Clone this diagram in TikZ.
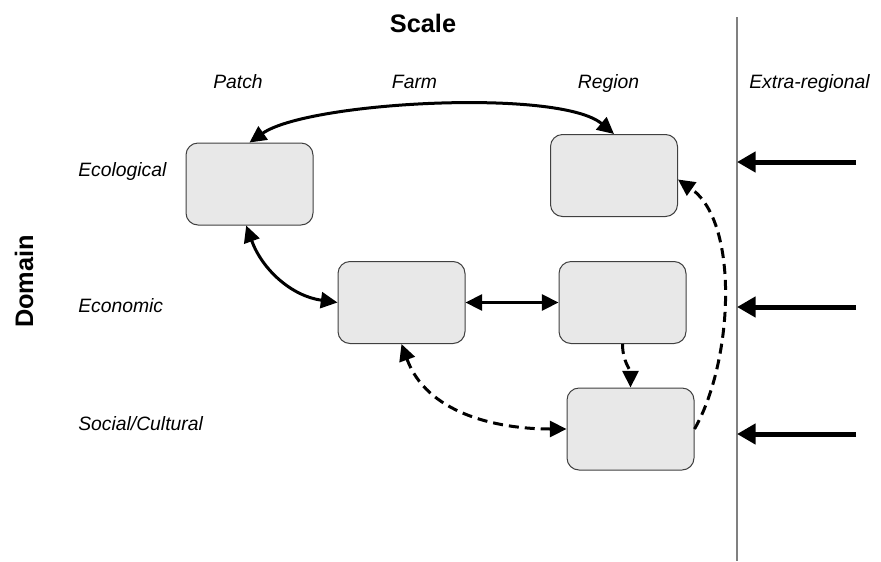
\documentclass[tikz,border=0pt]{standalone}
\usepackage{fontspec}
\setmainfont{Liberation Sans}
\usepackage{tikz}
\usetikzlibrary{arrows.meta,calc}
\usetikzlibrary{positioning}
\definecolor{boxgray}{HTML}{E8E8E8}
\tikzset{>={Triangle[length=12.5pt,width=12pt]}, x=0.75pt, y=0.75pt,
box/.style={rectangle, rounded corners=9pt, draw=black!75, line width=0.75pt, fill=boxgray, minimum width=95.25pt, minimum height=61.5pt, inner sep=0pt},
link/.style={<->, line width=2.25pt},
dashlink/.style={link, dash pattern=on 7.5pt off 4.5pt},
extlink/.style={-{Triangle[length=14pt,width=15pt]}, line width=3.75pt},
lbl/.style={font=\fontsize{14.5}{17}\selectfont\itshape, inner sep=0pt},
heading/.style={font=\fontsize{19}{22}\selectfont\bfseries, inner sep=0pt}}

\begin{document}
\begin{tikzpicture}
    \useasboundingbox (0,0) rectangle (881,-561);

    % Headings
    \node[heading, anchor=base] (scale) at (423,-32) {Scale};
    \node[heading, anchor=base, rotate=90] (domain) at (33,-281.5) {Domain};

    % Columns
    \node[lbl, anchor=base] (patch) at (238,-88) {Patch};
    \node[lbl, anchor=base] (farm) at (414.5,-88) {Farm};
    \node[lbl, anchor=base] (region) at (608.5,-88) {Region};
    \node[lbl, anchor=base] (extra) at (809.5,-88) {Extra-regional};

    % Rows
    \node[lbl, anchor=base west] (ecol) at (78,-176) {Ecological};
    \node[lbl, anchor=base west] (econ) at (78,-312) {Economic};
    \node[lbl, anchor=base west] (soc) at (78,-430) {Social/Cultural};

    % Nodes
    \node[box] (s1) at (249.5,-184) {};
    \node[box] (s2) at (614,-175.5) {};
    \node[box] (s3) at (401.5,-302.5) {};
    \node[box] (s4) at (622.5,-302.5) {};
    \node[box] (s5) at (630.5,-429) {};

    % Boundary
    \coordinate (bTop) at (737,-17);
    \coordinate (bBot) at (737,-561);
    \draw[gray, line width=1.25pt] (bTop) -- (bBot);
    \coordinate (x1) at (856,-162);
    \coordinate (x2) at (856,-307);
    \coordinate (x3) at (856,-434);

    % Edges
    \path (s1.north) edge[link, out=35, in=140, looseness=0.5] (s2.north)
          ([xshift=-2.5pt]s1.south) edge[link, out=-70, in=172] (s3.west)
          (s3.east) edge[link] (s4.west)
          (s4.south) edge[dashlink, ->, out=-90, in=90] (s5.north)
          (s3.south) edge[dashlink, out=-70, in=180] (s5.west)
          (s5.east) edge[dashlink, ->, out=60, in=-35, looseness=0.78] ([yshift=-3pt]s2.east);
    \path (x1) edge[extlink] (x1 -| bTop)
          (x2) edge[extlink] (x2 -| bTop)
          (x3) edge[extlink] (x3 -| bTop);
\end{tikzpicture}
\end{document}
